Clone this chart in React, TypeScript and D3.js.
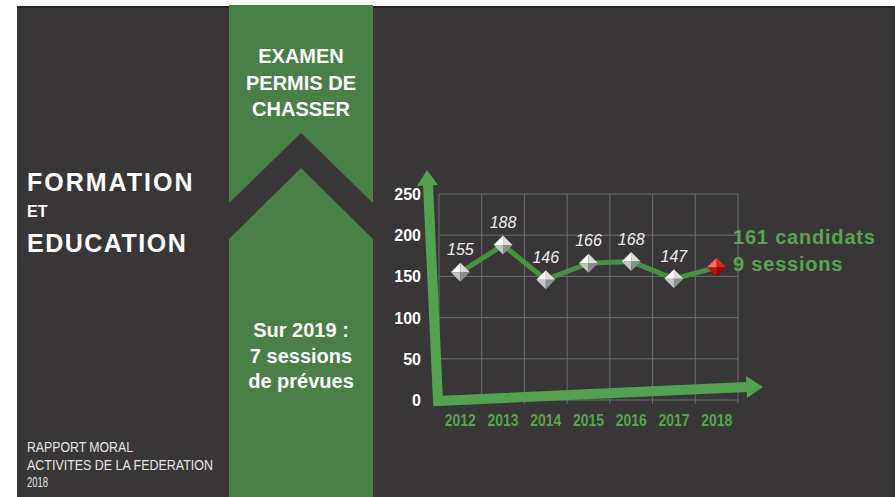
import React from "react";
import * as d3 from "d3";

const years = ["2012", "2013", "2014", "2015", "2016", "2017", "2018"];
const candidates = [155, 188, 146, 166, 168, 147, 161];
const yTicks = [0, 50, 100, 150, 200, 250];
const bandTop = ["EXAMEN", "PERMIS DE", "CHASSER"];
const bandBottom = ["Sur 2019 :", "7 sessions", "de prévues"];
const annotation = ["161 candidats", "9 sessions"];
const footer = ["RAPPORT MORAL", "ACTIVITES DE LA FEDERATION", "2018"];

const W = 895, H = 497;
const BG = "#383637";
const BAND = "#4a8048";
const ARROW = "#55a152";
const LABEL_GREEN = "#5ba352";
const SANS = "'Liberation Sans', Arial, sans-serif";

export default function App() {
  const x = d3.scaleBand<string>().domain(years).range([439, 738]).padding(0);
  const y = d3.scaleLinear().domain([0, 250]).range([400, 194]);
  const cx = (yr: string) => (x(yr) as number) + x.bandwidth() / 2;

  const line = d3
    .line<number>()
    .x((_, i) => cx(years[i]))
    .y((d) => y(d));

  const bandL = 229, bandR = 373, bandMid = (bandL + bandR) / 2;
  const upperShape = `M${bandL},5 L${bandR},5 L${bandR},203 L${bandMid},133 L${bandL},203 Z`;
  const lowerShape = `M${bandL},${H} L${bandL},239 L${bandMid},168 L${bandR},239 L${bandR},${H} Z`;

  const facets = (px: number, py: number, r: number) => {
    const T = `${px},${py - r}`, R = `${px + r},${py}`, B = `${px},${py + r}`, L = `${px - r},${py}`, C = `${px},${py}`;
    return {
      tl: `M${L} L${T} L${C} Z`,
      tr: `M${T} L${R} L${C} Z`,
      bl: `M${L} L${C} L${B} Z`,
      br: `M${C} L${R} L${B} Z`,
    };
  };

  const footerLen = [106, 186, 21];

  return (
    <svg
      width={W}
      height={H}
      style={{ position: "absolute", left: 0, top: 0 }}
      xmlns="http://www.w3.org/2000/svg"
    >
      <rect x={0} y={0} width={W} height={H} fill="#ffffff" />
      <rect x={17} y={6} width={W - 17} height={H - 6} fill={BG} />
      <rect x={17} y={6} width={W - 17} height={2} fill="#262626" />
      <rect x={W - 2} y={6} width={2} height={H - 6} fill="#2e2e2e" />

      {/* green band with chevron */}
      <path d={upperShape} fill={BAND} />
      <path d={lowerShape} fill={BAND} />
      {bandTop.map((t, i) => (
        <text
          key={t}
          x={bandMid}
          y={63 + i * 26.5}
          textAnchor="middle"
          fill="#ffffff"
          fontFamily={SANS}
          fontWeight="bold"
          fontSize={20}
        >
          {t}
        </text>
      ))}
      {bandBottom.map((t, i) => (
        <text
          key={t}
          x={bandMid}
          y={337 + i * 25.5}
          textAnchor="middle"
          fill="#ffffff"
          fontFamily={SANS}
          fontWeight="bold"
          fontSize={20}
        >
          {t}
        </text>
      ))}

      {/* left titles */}
      <text x={27} y={191} fill="#fff" fontFamily={SANS} fontWeight="bold" fontSize={25} letterSpacing={2}>
        FORMATION
      </text>
      <text x={27} y={217} fill="#fff" fontFamily={SANS} fontWeight="bold" fontSize={16}>
        ET
      </text>
      <text x={27} y={252} fill="#fff" fontFamily={SANS} fontWeight="bold" fontSize={25} letterSpacing={1.5}>
        EDUCATION
      </text>
      {footer.map((t, i) => (
        <text
          key={t}
          x={27}
          y={452 + i * 17.5}
          fill="#e6e6e6"
          fontFamily={SANS}
          fontSize={14}
          textLength={footerLen[i]}
          lengthAdjust="spacingAndGlyphs"
        >
          {t}
        </text>
      ))}

      {/* grid */}
      {yTicks.map((t) => (
        <line key={"h" + t} x1={439} x2={738} y1={y(t)} y2={y(t)} stroke="#6e6e6e" strokeWidth={1} />
      ))}
      {years.map((yr) => (
        <line
          key={"v" + yr}
          x1={x(yr) as number}
          x2={x(yr) as number}
          y1={194}
          y2={404}
          stroke="#6e6e6e"
          strokeWidth={1}
        />
      ))}
      <line x1={738} x2={738} y1={194} y2={404} stroke="#6e6e6e" strokeWidth={1} />

      {/* y tick labels */}
      {yTicks.map((t) => (
        <text
          key={"yl" + t}
          x={421}
          y={y(t) + 6}
          textAnchor="end"
          fill="#ffffff"
          fontFamily={SANS}
          fontWeight="bold"
          fontSize={16}
        >
          {t}
        </text>
      ))}

      {/* x tick labels */}
      {years.map((yr) => (
        <text
          key={"xl" + yr}
          x={cx(yr) - 15.5}
          y={426}
          fill={LABEL_GREEN}
          fontFamily={SANS}
          fontWeight="bold"
          fontSize={17}
          textLength={31}
          lengthAdjust="spacingAndGlyphs"
        >
          {yr}
        </text>
      ))}

      {/* green L arrows */}
      <path
        d="M428,185 L438,401 L747,387"
        fill="none"
        stroke={ARROW}
        strokeWidth={10}
        strokeLinejoin="miter"
      />
      <path d="M417,186 L427,170 L438,185 Z" fill={ARROW} />
      <path d="M746,376 L763,387 L747,398 Z" fill={ARROW} />

      {/* data line */}
      <path d={line(candidates) || ""} fill="none" stroke="#4a8f45" strokeWidth={5} strokeLinejoin="round" />
      {candidates.map((v, i) => {
        const last = i === candidates.length - 1;
        const px = cx(years[i]);
        const py = y(v);
        const f = facets(px, py, 9.5);
        const cols = last
          ? ["#ff6a6a", "#e82020", "#c01010", "#900000"]
          : ["#ffffff", "#dcdcdc", "#c4c4c4", "#8e8e8e"];
        return (
          <g key={"m" + i}>
            <path d={f.tl} fill={cols[0]} />
            <path d={f.tr} fill={cols[1]} />
            <path d={f.bl} fill={cols[2]} />
            <path d={f.br} fill={cols[3]} />
            {!last && (
              <text
                x={px}
                y={py - 17}
                textAnchor="middle"
                fill="#eeeeee"
                fontFamily={SANS}
                fontStyle="italic"
                fontSize={16}
              >
                {v}
              </text>
            )}
          </g>
        );
      })}

      {/* annotation */}
      {annotation.map((t, i) => (
        <text
          key={t}
          x={733}
          y={244 + i * 26.5}
          fill={LABEL_GREEN}
          fontFamily={SANS}
          fontWeight="bold"
          fontSize={20}
          letterSpacing={0.8}
        >
          {t}
        </text>
      ))}
    </svg>
  );
}
